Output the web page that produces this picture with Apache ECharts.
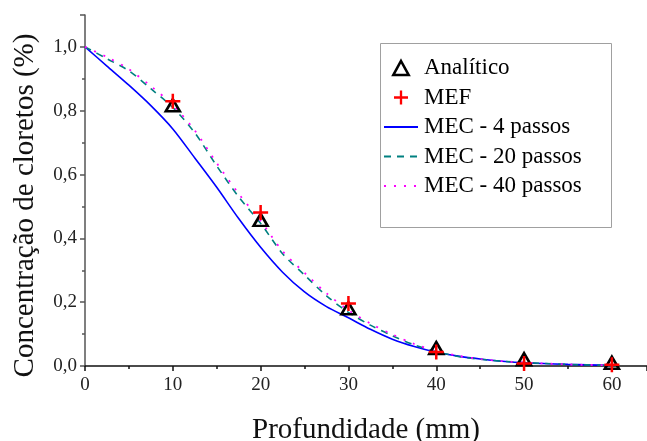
<!DOCTYPE html>
<html><head><meta charset="utf-8">
<script src="https://cdn.jsdelivr.net/npm/echarts@6/dist/echarts.min.js"></script>
<style>html,body{margin:0;padding:0;background:#fff}#c{width:647px;height:441px}</style>
</head><body><div id="c"></div>
<script>
var pointX = [10, 20, 30, 40, 50, 60];
var analitico = [0.817, 0.458, 0.181, 0.056, 0.021, 0.01];
var mef = [0.83, 0.481, 0.196, 0.044, 0.008, 0.004];
var curveX = [0, 2.5, 5, 7.5, 10, 12.5, 15, 17.5, 20, 22.5, 25, 27.5, 30, 32.5, 35, 37.5, 40, 42.5, 45, 47.5, 50, 55, 60];
var mec4 = [1.0, 0.94, 0.88, 0.816, 0.743, 0.652, 0.56, 0.462, 0.372, 0.294, 0.232, 0.186, 0.151, 0.115, 0.084, 0.061, 0.043, 0.031, 0.022, 0.015, 0.01, 0.005, 0.002];
var mec20 = [1.0, 0.963, 0.925, 0.869, 0.81, 0.731, 0.627, 0.53, 0.447, 0.352, 0.285, 0.22, 0.168, 0.128, 0.095, 0.066, 0.045, 0.03, 0.021, 0.015, 0.011, 0.005, 0.002];
var mec40 = [1.0, 0.968, 0.93, 0.877, 0.818, 0.738, 0.636, 0.54, 0.455, 0.36, 0.292, 0.228, 0.175, 0.133, 0.099, 0.069, 0.047, 0.032, 0.022, 0.015, 0.011, 0.005, 0.002];
var names = ['Analítico', 'MEF', 'MEC - 4 passos', 'MEC - 20 passos', 'MEC - 40 passos'];

function pairs(xs, ys) { return xs.map(function (x, i) { return [x, ys[i]]; }); }
var serif = 'Liberation Serif';
var triPath = 'path://M6,0L12,11L0,11Z';
var crossPath = 'path://M5,0H7V5H12V7H7V12H5V7H0V5H5Z';
var hiddenSym = { color: 'rgba(0,0,0,0)', borderWidth: 0, opacity: 0 };
var chart = echarts.init(document.getElementById('c'));
chart.setOption({
  animation: false,
  grid: { left: 85, top: 15, right: 0, bottom: 75, containLabel: false, outerBoundsMode: 'none' },
  graphic: [{
    type: 'rect', left: 380, top: 43, z: 0,
    shape: { width: 231, height: 184 },
    style: { fill: '#fff', stroke: '#a0a0a0', lineWidth: 1 }
  }],
  legend: {
    orient: 'vertical', left: 383, top: 56.5, padding: 0,
    itemWidth: 34, itemHeight: 14, itemGap: 6.5,
    textStyle: { fontFamily: serif, fontSize: 23, color: '#000', padding: [0, 0, 0, 1] },
    data: [
      { name: names[0], icon: triPath, itemStyle: { color: 'rgba(255,255,255,0)', borderColor: '#000', borderWidth: 2.6, opacity: 1 } },
      { name: names[1], icon: crossPath, itemStyle: { color: '#ff0000', opacity: 1 } },
      { name: names[2], itemStyle: hiddenSym },
      { name: names[3], itemStyle: hiddenSym },
      { name: names[4], itemStyle: hiddenSym }
    ]
  },
  xAxis: {
    type: 'value', min: 0, max: 64, interval: 10,
    name: 'Profundidade (mm)', nameLocation: 'middle', nameGap: 50,
    nameTextStyle: { fontFamily: serif, fontSize: 29, color: '#111' },
    axisLine: { lineStyle: { color: '#111', width: 1.5 } },
    axisTick: { show: true, length: 5, inside: false, lineStyle: { color: '#111', width: 1.5 } },
    minorTick: { show: true, splitNumber: 2, length: 3, lineStyle: { color: '#111', width: 1.5 } },
    axisLabel: { fontFamily: serif, fontSize: 19, color: '#222', margin: 10, showMaxLabel: false },
    splitLine: { show: false }
  },
  yAxis: {
    type: 'value', min: 0, max: 1.1, interval: 0.2,
    name: 'Concentração de cloretos (%)', nameLocation: 'middle', nameGap: 45,
    nameTextStyle: { fontFamily: serif, fontSize: 29, color: '#111', padding: [0, 30, 0, 0] },
    axisLine: { show: true, lineStyle: { color: '#555', width: 1.5 } },
    axisTick: { show: true, length: 5, lineStyle: { color: '#555', width: 1.5 } },
    minorTick: { show: true, splitNumber: 2, length: 3, lineStyle: { color: '#555', width: 1.5 } },
    axisLabel: {
      fontFamily: serif, fontSize: 19, color: '#222', margin: 8,
      formatter: function (v) { return v > 1.05 ? '' : v.toFixed(1).replace('.', ','); }
    },
    splitLine: { show: false }
  },
  series: [
    {
      name: names[0], type: 'scatter', data: pairs(pointX, analitico), z: 5,
      symbol: 'triangle', symbolSize: [14, 12],
      itemStyle: { color: 'rgba(255,255,255,0)', borderColor: '#000', borderWidth: 2.6, opacity: 1 }
    },
    {
      name: names[1], type: 'scatter', data: pairs(pointX, mef), z: 6,
      symbol: crossPath, symbolSize: 15,
      itemStyle: { color: '#ff0000', opacity: 1 }
    },
    {
      name: names[2], type: 'line', data: pairs(curveX, mec4), smooth: 0.3, showSymbol: false, symbol: 'none',
      lineStyle: { color: '#0000ff', width: 1.6, type: 'solid' }, itemStyle: { color: '#0000ff' }
    },
    {
      name: names[3], type: 'line', data: pairs(curveX, mec20), smooth: 0.3, showSymbol: false, symbol: 'none',
      lineStyle: { color: '#008080', width: 1.6, type: [7, 6] }, itemStyle: { color: '#008080' }
    },
    {
      name: names[4], type: 'line', data: pairs(curveX, mec40), smooth: 0.3, showSymbol: false, symbol: 'none',
      lineStyle: { color: '#ff00ff', width: 1.8, type: [2, 8] }, itemStyle: { color: '#ff00ff' }
    }
  ]
});
</script></body></html>
